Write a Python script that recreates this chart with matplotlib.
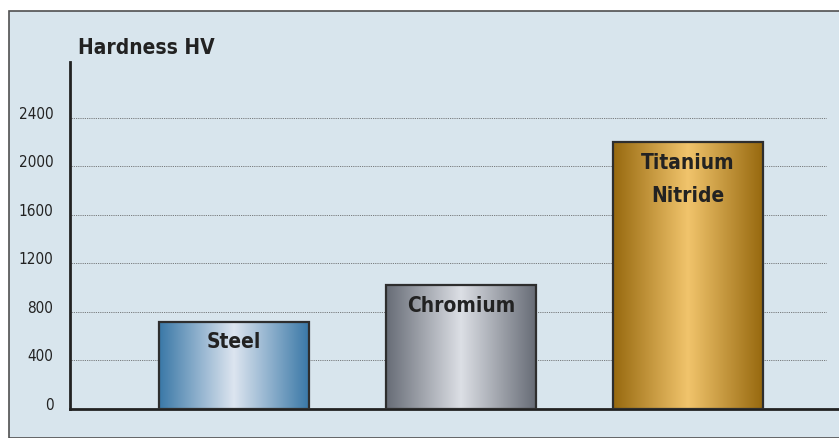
import numpy as np
import matplotlib.pyplot as plt
from matplotlib.colors import LinearSegmentedColormap
from matplotlib.patches import Rectangle

# data
materials = ['Steel', 'Chromium', 'Titanium\nNitride']
hardness = [720, 1020, 2200]
yticks = [0, 400, 800, 1200, 1600, 2000, 2400]

# gradient colours: edge, centre
bar_colors = [('#3a78a7', '#dde5f0'), ('#676c76', '#dcdfe5'), ('#97690f', '#f1c46c')]

plt.rcParams['font.family'] = ['Liberation Sans Narrow', 'DejaVu Sans']
plt.rcParams['font.stretch'] = 'condensed'

W, H = 839, 439
fig = plt.figure(figsize=(W / 100, H / 100), dpi=100)
fig.patch.set_facecolor('white')

# blue panel with a frame on left/top
panel = Rectangle((9 / W, 0), 1 - 9 / W + 0.01, 1 - 12 / H, transform=fig.transFigure,
                  facecolor='#d8e5ed', edgecolor='#505050', linewidth=1.2, zorder=-5)
fig.patches.append(panel)

# axes placed in pixels
left, bottom, right, top = 70, 29, 839, 439 - 63
ax = fig.add_axes([left / W, bottom / H, (right - left) / W, (top - bottom) / H])
ax.set_facecolor('none')

px_per_unit = 227
xmin = 0 - (234 - left) / px_per_unit
xmax = 2 + (right - 688) / px_per_unit
ymax = 2860
bw = 150 / px_per_unit

# dotted grid
grid_end = 2 + (826 - 688) / px_per_unit
for t in yticks[1:]:
    ax.plot([xmin, grid_end], [t, t], color='#555555', linestyle=(0, (1, 1.2)), linewidth=0.6, zorder=1)

x = np.arange(len(materials))
for i, (xi, v) in enumerate(zip(x, hardness)):
    edge, mid = bar_colors[i]
    cmap = LinearSegmentedColormap.from_list('g', [edge, mid, edge])
    grad = np.linspace(0, 1, 256).reshape(1, -1)
    ax.imshow(grad, cmap=cmap, extent=[xi - bw / 2, xi + bw / 2, 0, v],
              aspect='auto', zorder=2, interpolation='bilinear')
    ax.add_patch(Rectangle((xi - bw / 2, 0), bw, v, facecolor='none',
                           edgecolor='#2e2e2e', linewidth=1.6, zorder=3))
    ax.annotate(materials[i], (xi, v), xytext=(0, -7), textcoords='offset points',
                ha='center', va='top', fontsize=15, fontweight='bold', color='#222222',
                linespacing=1.8, zorder=4)

ax.set_xlim(xmin, xmax)
ax.set_ylim(0, ymax)

for s in ['top', 'right']:
    ax.spines[s].set_visible(False)
ax.spines['left'].set_linewidth(2)
ax.spines['bottom'].set_linewidth(2)
ax.spines['left'].set_color('#222222')
ax.spines['bottom'].set_color('#222222')
ax.set_xticks([])
ax.set_yticks(yticks)
ax.set_yticklabels([str(t) for t in yticks], fontsize=11, color='#222222')
ax.tick_params(axis='y', length=0, pad=12)
for lab in ax.get_yticklabels():
    lab.set_verticalalignment('baseline')

fig.text(78 / W, 1 - 48 / H, 'Hardness HV', fontsize=15, fontweight='bold',
         color='#222222', ha='left', va='center')

fig.savefig('out.png', dpi=100)
